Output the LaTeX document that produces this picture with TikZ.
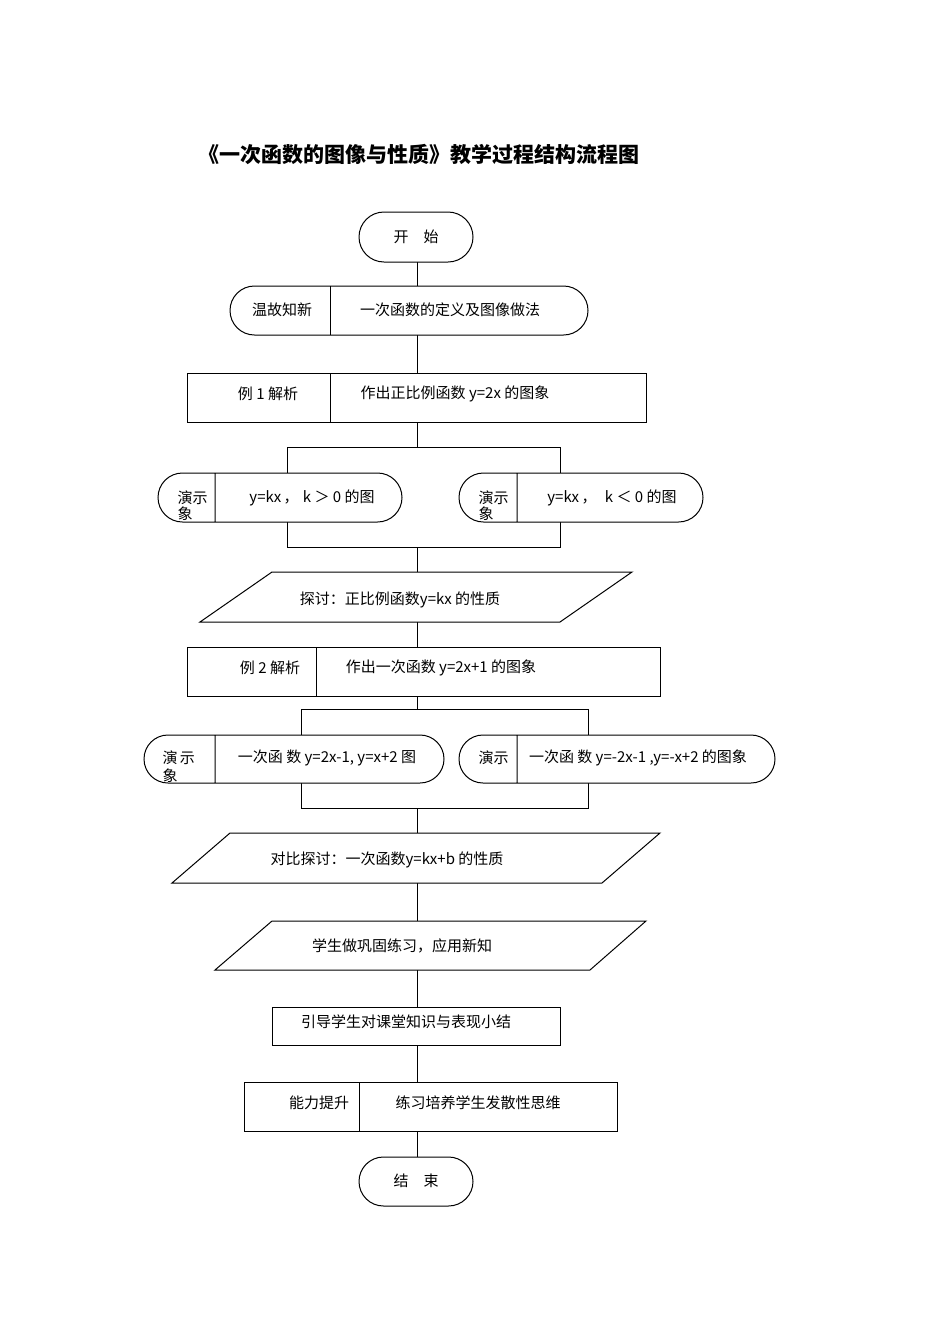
\documentclass[tikz,border=0pt]{standalone}
\usepackage{fontspec}
\setmainfont{Liberation Serif}
\newfontfamily\cjk{Noto Sans CJK SC}
\begin{document}
\begin{tikzpicture}[x=1pt,y=-1pt,line width=1pt,
  txt/.style={font=\cjk\fontsize{15}{17}\selectfont,inner sep=0pt},
  ln/.style={draw=black}]
\useasboundingbox (0,0) rectangle (950,1344);
\node[font=\cjk\bfseries\fontsize{21}{24}\selectfont] (title) at (419,155) {《一次函数的图像与性质》教学过程结构流程图};
% main spine
\draw (417,262) -- (417,286) (417,335) -- (417,373) (417,422) -- (417,447)
      (417,547) -- (417,572) (417,622) -- (417,647) (417,696) -- (417,709)
      (417,808) -- (417,833) (417,883) -- (417,921) (417,970) -- (417,1007)
      (417,1045) -- (417,1082) (417,1131) -- (417,1157);
% start
\draw[fill=white,rounded corners=25] (359,212) rectangle (473,262);
\node[txt] (start) at (416,237) {开\quad 始};
% review
\draw[fill=white,rounded corners=24.5] (230,286) rectangle (588,335);
\draw (330,286) -- (330,335);
\node[txt] (r1) at (282,310) {温故知新};
\node[txt] (r2) at (450,310) {一次函数的定义及图像做法};
% ex1
\draw (187,373) rectangle (646,422) (330,373) -- (330,422);
\node[txt] (e1a) at (268,394) {例 1 解析};
\node[txt] (e1b) at (455,394) {作出正比例函数 y=2x 的图象};
% branch 1
\draw (287,473) -- (287,447) -- (560,447) -- (560,473);
\draw (287,522) -- (287,547) -- (560,547) -- (560,522);
\draw[fill=white,rounded corners=24.5] (158,473) rectangle (402,522) (215,473) -- (215,522);
\draw[fill=white,rounded corners=24.5] (459,473) rectangle (703,522) (517,473) -- (517,522);
\node[txt,anchor=west] (d1a) at (177,498) {演示};
\node[txt,anchor=west] (d1b) at (177,514) {象};
\node[txt] (d1c) at (312,498) {y=kx\,，\;k ＞ 0 的图};
\node[txt,anchor=west] (d2a) at (478,498) {演示};
\node[txt,anchor=west] (d2b) at (478,514) {象};
\node[txt] (d2c) at (612,498) {y=kx\,，\;\;k ＜ 0 的图};
% para 1
\draw[fill=white] (272,572) -- (632,572) -- (560,622) -- (200,622) -- cycle;
\node[txt] (p1) at (400,600) {探讨：正比例函数y=kx 的性质};
% ex2
\draw (187,647) rectangle (660,696) (316,647) -- (316,696);
\node[txt] (e2a) at (270,668) {例 2 解析};
\node[txt] (e2b) at (441,668) {作出一次函数 y=2x+1 的图象};
% branch 2
\draw (301,735) -- (301,709) -- (588,709) -- (588,735);
\draw (301,783) -- (301,808) -- (588,808) -- (588,783);
\draw[fill=white,rounded corners=24] (144,735) rectangle (444,783) (215,735) -- (215,783);
\draw[fill=white,rounded corners=24] (459,735) rectangle (775,783) (517,735) -- (517,783);
\node[txt,anchor=west] (d3a) at (162,758) {演\,示};
\node[txt,anchor=west] (d3b) at (162,776) {象};
\node[txt] (d3c) at (327,758) {一次函 数 y=2x-1, y=x+2 图};
\node[txt,anchor=west] (d4a) at (478,758) {演示};
\node[txt] (d4c) at (638,758) {一次函 数 y=-2x-1 ,y=-x+2 的图象};
% para 2
\draw[fill=white] (230,833) -- (660,833) -- (602,883) -- (172,883) -- cycle;
\node[txt] (p2) at (387,860) {对比探讨：一次函数y=kx+b 的性质};
% para 3
\draw[fill=white] (272,921) -- (646,921) -- (590,970) -- (215,970) -- cycle;
\node[txt] (p3) at (402,946) {学生做巩固练习，应用新知};
% summary
\draw (272,1007) rectangle (560,1045);
\node[txt] (s) at (406,1022) {引导学生对课堂知识与表现小结};
% ability
\draw (244,1082) rectangle (617,1131) (359,1082) -- (359,1131);
\node[txt] (a1) at (319,1103) {能力提升};
\node[txt] (a2) at (478,1103) {练习培养学生发散性思维};
% end
\draw[fill=white,rounded corners=24.5] (359,1157) rectangle (473,1206);
\node[txt] (end) at (416,1181) {结\quad 束};
\end{tikzpicture}
\end{document}
